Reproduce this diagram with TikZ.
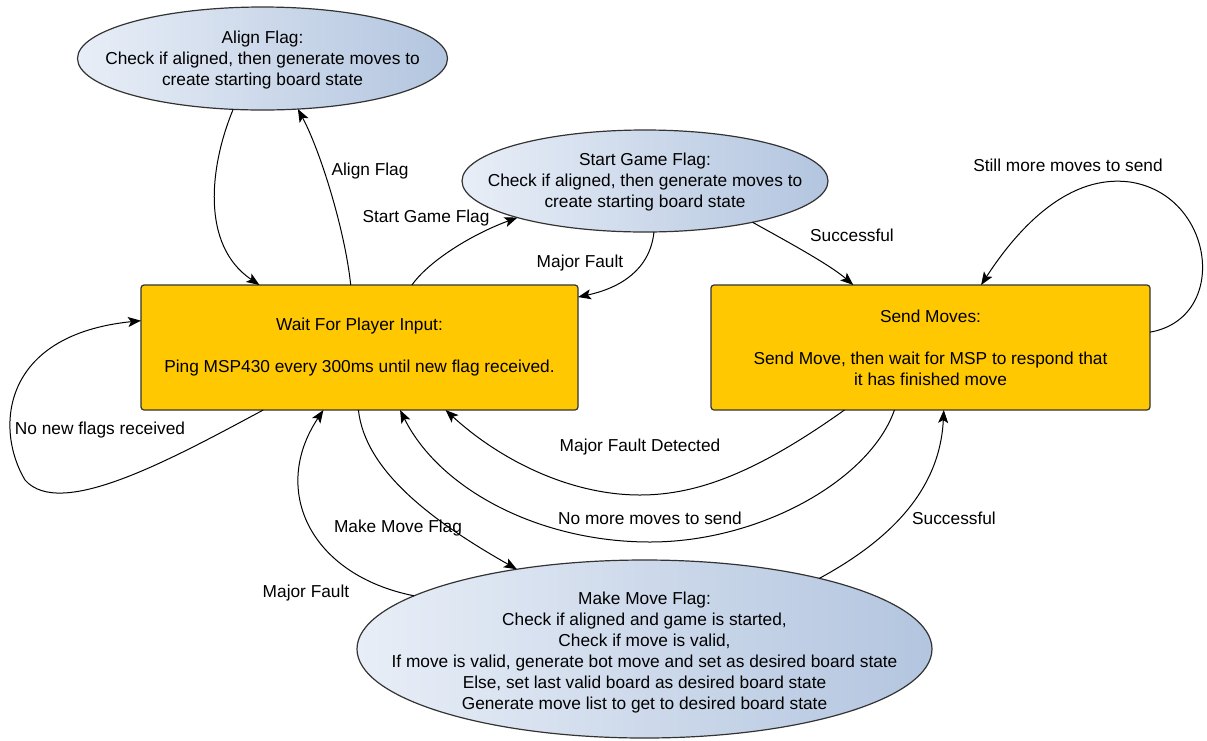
\documentclass[tikz,border=0pt]{standalone}
\usepackage{fontspec}
\setmainfont{Liberation Sans}
\usetikzlibrary{arrows.meta,shapes.geometric}
\definecolor{bordc}{HTML}{333333}
\definecolor{rectc}{HTML}{FFC800}
\definecolor{ellL}{HTML}{E8EEF7}
\definecolor{ellR}{HTML}{B3C5DF}
\begin{document}
\begin{tikzpicture}[x=1pt,y=-1pt,
  font=\fontsize{17.3}{21}\selectfont,
  statebox/.style={draw=bordc, line width=1.2pt, fill=rectc, rounded corners=3pt,
    minimum height=125pt, align=center, inner sep=0pt, outer sep=0pt},
  flagell/.style={ellipse, draw=bordc, line width=1.2pt, left color=ellL, right color=ellR,
    inner sep=0pt, outer sep=0pt},
  conn/.style={draw=black, line width=1pt, -{Stealth[length=13pt,width=10pt,inset=3pt]}},
  lbl/.style={inner sep=0pt}]
\useasboundingbox (0,0) rectangle (1207,740);

\node[flagell, minimum width=370pt, minimum height=103pt,
  label={[align=center,yshift=-1.5pt]center:{Align Flag:\\Check if aligned, then generate moves to\\create starting board state}}]
  (align) at (262.5,58.5) {};
\node[flagell, minimum width=366pt, minimum height=102pt,
  label={[align=center,yshift=-1.5pt]center:{Start Game Flag:\\Check if aligned, then generate moves to\\create starting board state}}]
  (start) at (645,181) {};
\node[flagell, minimum width=575pt, minimum height=178pt,
  label={[align=center,yshift=-3.5pt]center:{Make Move Flag:\\Check if aligned and game is started,\\Check if move is valid,\\If move is valid, generate bot move and set as desired board state\\Else, set last valid board as desired board state\\Generate move list to get to desired board state}}]
  (make) at (644.5,649) {};
\node[statebox, minimum width=437pt] (wait) at (359.5,347.5)
  {Wait For Player Input:\\[21pt]Ping MSP430 every 300ms until new flag received.};
\node[statebox, minimum width=439pt] (send) at (930.5,347.5)
  {Send Moves:\\[21pt]Send Move, then wait for MSP to respond that\\it has finished move};

\draw[conn] (align.240) .. controls (210,165) and (200,245) .. (wait.148.6);
\draw[conn] (wait.98.6) .. controls (345,230) and (320,150) .. (align.-55);
\draw[conn] (wait.50) .. controls (428,262) and (470,235) .. (start.196.6);
\draw[conn] (start.-80) .. controls (650,270) and (620,288) .. (wait.13.5);
\draw[conn] (start.-21) .. controls (790,243) and (830,265) .. (send.141.1);
\draw[conn] (send.4) .. controls (1230,318) and (1215,195) .. (1130,182)
  .. controls (1070,174) and (1020,225) .. (send.51.6);
\draw[conn] (wait.-147.1) .. controls (170,460) and (60,520) .. (25,480)
  .. controls (-5,430) and (0,335) .. (wait.173.9);
\draw[conn] (wait.-91.4) .. controls (365,470) and (430,520) .. (make.148);
\draw[conn] (make.167.6) .. controls (310,575) and (270,490) .. (wait.-120.3);
\draw[conn] (send.-144.8) .. controls (760,470) and (700,495) .. (640,495)
  .. controls (570,495) and (500,460) .. (wait.-36.5);
\draw[conn] (send.-120.3) .. controls (870,480) and (760,542) .. (650,542)
  .. controls (540,542) and (440,490) .. (wait.-57);
\draw[conn] (make.22.9) .. controls (890,540) and (940,490) .. (send.-78.7);

\node[lbl] (lalign) at (370,171) {Align Flag};
\node[lbl] (lstart) at (426,218) {Start Game Flag};
\node[lbl] (lmf1) at (580,263) {Major Fault};
\node[lbl] (lsucc1) at (852,235) {Successful};
\node[lbl] (lstill) at (1068,165) {Still more moves to send};
\node[lbl] (lnonew) at (100,430) {No new flags received};
\node[lbl] (lmake) at (398,528) {Make Move Flag};
\node[lbl] (lmf2) at (306,593) {Major Fault};
\node[lbl] (lmfd) at (640,447) {Major Fault Detected};
\node[lbl] (lnomore) at (650,518) {No more moves to send};
\node[lbl] (lsucc2) at (954,518) {Successful};
\end{tikzpicture}
\end{document}
